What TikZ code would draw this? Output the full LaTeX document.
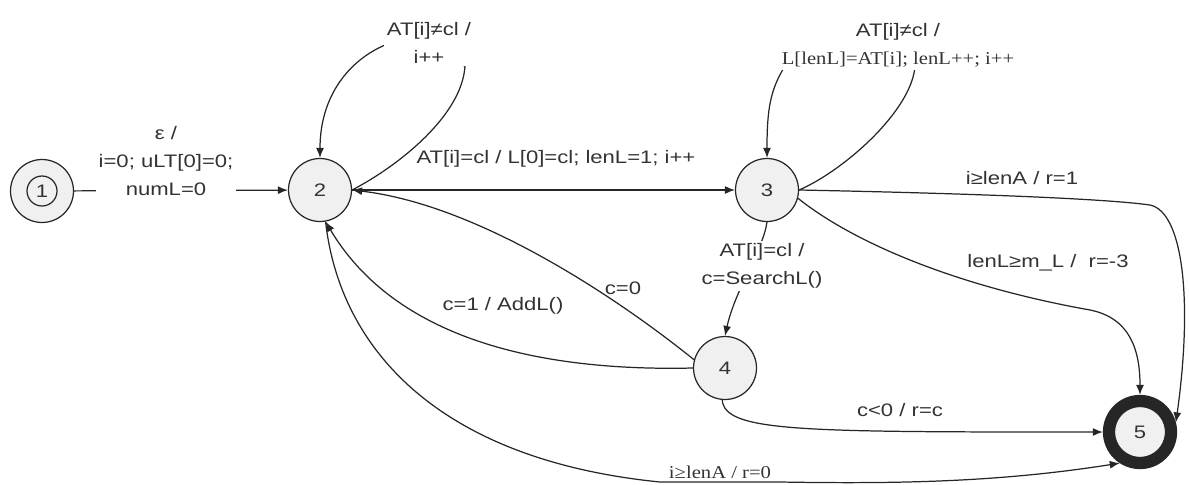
\documentclass[tikz,border=0pt]{standalone}
\usepackage{fontspec}
\setmainfont{Liberation Sans}[FakeStretch=1.22]
\newfontfamily\timesfont{Liberation Serif}[FakeStretch=1.14]
\usetikzlibrary{arrows.meta}

\begin{document}
\begin{tikzpicture}[x=0.02cm, y=-0.02cm, >={Latex[length=2mm,width=1.6mm]},
    lbl/.style={align=center, inner sep=1.5pt, text=black!80, font=\fontsize{10.3}{16}\selectfont}]
  \useasboundingbox (0,0) rectangle (1189,484);
  \begin{scope}[every node/.style={circle,draw=black!85,fill=gray!12,minimum size=1.26cm,inner sep=0pt,line width=0.7pt,text=black!80,font=\fontsize{10.3}{12}\selectfont}]
    \node (1) at (42,191) {};
    \node[minimum size=0.6cm] (1i) at (1) {1};
    \node (2) at (320,190) {2};
    \node (3) at (767,190) {3};
    \node (4) at (725,368) {4};
    \node[line width=7pt, minimum size=1.24cm] (5) at (1140,432) {5};
  \end{scope}
  \begin{scope}[->, line width=0.7pt, draw=black!85]
    \draw (1) -- (2);
    \draw (2.east) .. controls (400,165) and (462,115) .. (465,66) -- (385,45) .. controls (350,60) and (320,95) .. (2.north);
    \draw (2) -- (3);
    \draw (3.east) .. controls (845,170) and (912,110) .. (915,66) -- (785,66) .. controls (770,90) and (767,110) .. (3.north);
    \draw (3.east) .. controls (950,193) and (1100,198) .. (1150,205) .. controls (1183,212) and (1193,300) .. (5.15);
    \draw (3.-15) .. controls (850,240) and (950,285) .. (1090,310) .. controls (1130,318) and (1140,350) .. (5.north);
    \draw (3.south) .. controls (763,250) and (735,290) .. (4.north);
    \draw (4.165) .. controls (620,300) and (480,205) .. (2.east);
    \draw (4.west) .. controls (520,372) and (390,330) .. (2.-80);
    \draw (4.-95) .. controls (725,432) and (800,432) .. (5.west);
    \draw (2.-80) .. controls (340,350) and (440,460) .. (660,482) -- (780,482) .. controls (900,484) and (1000,482) .. (5.-123);
  \end{scope}
  \begin{scope}[every node/.style={lbl}]
    \node[fill=white] (l12) at (166,161) {ε /\\i=0; uLT[0]=0;\\numL=0};
    \node[fill=white] (l22) at (429,43) {AT[i]≠cl /\\i++};
    \node (l23) at (556,159) {AT[i]=cl / L[0]=cl; lenL=1; i++};
    \node[fill=white] (l33) at (898,45) {AT[i]≠cl /\\{\timesfont L[lenL]=AT[i]; lenL++; i++}};
    \node (l35a) at (1022,178) {i≥lenA / r=1};
    \node (l35b) at (1048,263) {lenL≥m\_L /\ \ r=-3};
    \node[fill=white] (l34) at (762,266) {AT[i]=cl /\\c=SearchL()};
    \node (l42a) at (623,288) {c=0};
    \node (l42b) at (503,306) {c=1 / AddL()};
    \node (l45) at (900,410) {c<0 / r=c};
    \node[fill=white] (l25) at (720,472) {\timesfont i≥lenA / r=0};
  \end{scope}
\end{tikzpicture}
\end{document}
